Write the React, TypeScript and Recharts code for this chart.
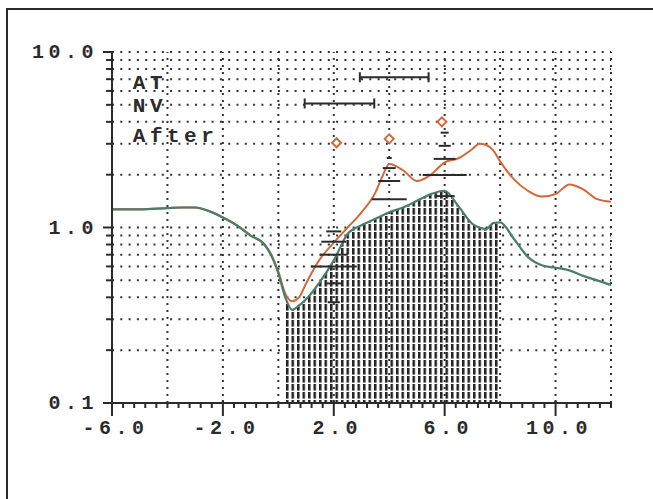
import React from 'react';
import {
  ComposedChart,
  Line,
  Area,
  Scatter,
  XAxis,
  YAxis,
  CartesianGrid,
  ReferenceLine,
  ErrorBar
} from 'recharts';

// sampled positions along the x axis
const xs = [-6, -5, -4, -3.5, -3, -2.5, -2, -1.5, -1, -0.5, -0.25, 0, 0.25, 0.5, 0.75, 1, 1.5, 2, 2.5, 3, 3.5, 3.75, 4, 4.5, 5, 5.5, 6, 6.5, 7, 7.25, 7.5, 7.75, 8, 8.5, 9, 9.5, 10, 10.5, 11, 11.5, 12];
const orangeVals = [1.27, 1.27, 1.29, 1.30, 1.30, 1.24, 1.14, 1.03, 0.90, 0.80, 0.70, 0.56, 0.42, 0.38, 0.40, 0.48, 0.66, 0.82, 1.00, 1.22, 1.58, 1.95, 2.30, 2.12, 1.84, 2.00, 2.35, 2.48, 2.80, 3.00, 2.95, 2.75, 2.38, 1.88, 1.62, 1.50, 1.55, 1.76, 1.65, 1.45, 1.40];
const greenVals = [1.27, 1.27, 1.29, 1.30, 1.30, 1.24, 1.14, 1.03, 0.90, 0.80, 0.69, 0.55, 0.40, 0.34, 0.36, 0.39, 0.49, 0.65, 0.92, 1.03, 1.12, 1.17, 1.22, 1.30, 1.42, 1.55, 1.62, 1.32, 1.05, 1.00, 0.98, 1.06, 1.07, 0.86, 0.68, 0.61, 0.59, 0.57, 0.53, 0.50, 0.47];
const hatchFrom = 0.25;
const hatchTo = 8;

// orange diamonds
const diamondXs = [2.1, 4.0, 5.9];
const diamondYs = [3.04, 3.2, 4.0];

// short black dashes under the diamonds
const dashXs = [2, 2, 2, 2, 2, 2, 4, 4, 4, 4, 6, 6, 6, 6, 6];
const dashYs = [0.95, 0.83, 0.70, 0.60, 0.48, 0.375, 2.49, 2.18, 1.84, 1.45, 3.47, 2.92, 2.46, 1.99, 1.51];
const DASH_WIDTHS = [15, 25, 28, 46, 15, 12, 5, 13, 22, 35, 8, 12, 22, 44, 20];

// horizontal range bars (AT, NV)
const rangeLows = [2.94, 0.95];
const rangeHighs = [5.42, 3.46];
const rangeYs = [7.18, 5.09];

// row labels
const rowLabels = ['AT', 'NV', 'After'];
const rowLabelX = -5.25;
const rowLabelYs = [6.81, 5.03, 3.38];

const xMajorTicks = [-6, -2, 2, 6, 10];
const xGridLines = [-4, -2, 0, 2, 4, 6, 8, 10, 12];
const yMajorTicks = [0.1, 1, 10];
const yTickLabels = ['0.1', '1.0', '10.0'];

const ORANGE = '#d2683a';
const GREEN = '#4b7e6a';
const INK = '#2b2b2b';
const FONT = '"Liberation Mono", "DejaVu Sans Mono", monospace';

const chartData = xs.map((x, i) => ({
  x,
  orange: orangeVals[i],
  green: greenVals[i],
  hatch: x >= hatchFrom && x <= hatchTo ? greenVals[i] : null
}));

const diamondData = diamondXs.map((x, i) => ({ x, y: diamondYs[i] }));
const dashData = dashXs.map((x, i) => ({ x, y: dashYs[i], k: i }));
const rangeData = rangeYs.map((y, i) => ({
  x: (rangeLows[i] + rangeHighs[i]) / 2,
  y,
  err: (rangeHighs[i] - rangeLows[i]) / 2
}));
const labelData = rowLabels.map((t, i) => ({ x: rowLabelX, y: rowLabelYs[i], t }));

const xTicks: number[] = [];
for (let k = 0; k <= 45; k++) xTicks.push(Math.round((-6 + k * 0.4) * 10) / 10);

const yTicks: number[] = [];
[0.1, 1].forEach(d => {
  for (let k = 1; k <= 9; k++) yTicks.push(Math.round(k * d * 100) / 100);
});
yTicks.push(10);

const textStyle = {
  fontFamily: FONT,
  fontSize: 20,
  fontWeight: 700,
  letterSpacing: 4.5,
  fill: INK
};

const XTick = (props: any) => {
  const { x, y, payload } = props;
  const v = payload.value;
  const major = xMajorTicks.includes(v);
  return (
    <g>
      <line x1={x} x2={x} y1={major ? y - 3 : y} y2={major ? y + 13 : y + 5} stroke={INK} strokeWidth={2} />
      {major && (
        <text x={x + 3.5} y={y + 31} textAnchor="middle" {...textStyle}>
          {v.toFixed(1)}
        </text>
      )}
    </g>
  );
};

const YTick = (props: any) => {
  const { x, y, payload } = props;
  const v = payload.value;
  const mi = yMajorTicks.findIndex(m => Math.abs(m - v) < 1e-9);
  const major = mi >= 0;
  return (
    <g>
      <line x1={x - (major ? 9 : 6)} x2={x} y1={y} y2={y} stroke={INK} strokeWidth={2} />
      {major && (
        <text x={x - 14} y={y + 6} textAnchor="end" {...textStyle}>
          {yTickLabels[mi]}
        </text>
      )}
    </g>
  );
};

const Diamond = (props: any) => {
  const { cx, cy } = props;
  const s = 4.5;
  return (
    <polygon
      points={`${cx},${cy - s} ${cx + s},${cy} ${cx},${cy + s} ${cx - s},${cy}`}
      fill="#fff"
      stroke={ORANGE}
      strokeWidth={2}
    />
  );
};

const Dash = (props: any) => {
  const { cx, cy, payload } = props;
  const w = DASH_WIDTHS[payload.k] || 10;
  return <line x1={cx - w / 2} x2={cx + w / 2} y1={cy} y2={cy} stroke={INK} strokeWidth={2} />;
};

const RowLabel = (props: any) => {
  const { cx, cy, payload } = props;
  return (
    <text x={cx} y={cy} dy="0.36em" {...textStyle} fontSize={21}>
      {payload.t}
    </text>
  );
};

const Nothing = () => <g />;

export default function App() {
  return (
    <div style={{ position: 'fixed', left: 0, top: 0, width: 653, height: 499, background: '#fff' }}>
      <div
        style={{
          position: 'absolute',
          left: 6,
          top: 8,
          width: 645,
          height: 495,
          borderTop: `2px solid ${INK}`,
          borderLeft: `2px solid ${INK}`
        }}
      />
      <div style={{ position: 'absolute', left: 0, top: 0 }}>
        <ComposedChart width={653} height={499} data={chartData} margin={{ top: 52, right: 42, left: 52, bottom: 46 }}>
          <defs>
            <pattern id="hatch" width="5.5" height="8" patternUnits="userSpaceOnUse">
              <rect width="5.5" height="8" fill="#fff" />
              <rect x="0" y="0" width="2.5" height="6.6" fill="#222" />
            </pattern>
          </defs>
          <CartesianGrid vertical={false} stroke="#333" strokeWidth={2} strokeDasharray="2 6.3" />
          {xGridLines.map(g => (
            <ReferenceLine key={g} x={g} stroke="#333" strokeWidth={2} strokeDasharray="2 5" />
          ))}
          <XAxis
            dataKey="x"
            type="number"
            domain={[-6, 12]}
            ticks={xTicks}
            interval={0}
            allowDataOverflow
            height={50}
            tickSize={0}
            tickMargin={0}
            tickLine={false}
            axisLine={{ stroke: INK, strokeWidth: 2 }}
            tick={<XTick />}
          />
          <YAxis
            type="number"
            scale="log"
            domain={[0.1, 10]}
            ticks={yTicks}
            interval={0}
            allowDataOverflow
            width={60}
            tickSize={0}
            tickMargin={0}
            tickLine={false}
            axisLine={{ stroke: INK, strokeWidth: 2 }}
            tick={<YTick />}
          />
          <Area
            dataKey="hatch"
            type="monotone"
            baseValue={0.1}
            stroke="none"
            fill="url(#hatch)"
            fillOpacity={1}
            isAnimationActive={false}
            activeDot={false}
          />
          <Line dataKey="orange" type="monotone" stroke={ORANGE} strokeWidth={2} dot={false} activeDot={false} isAnimationActive={false} />
          <Line dataKey="green" type="monotone" stroke={GREEN} strokeWidth={2.2} dot={false} activeDot={false} isAnimationActive={false} />
          <Scatter data={dashData} dataKey="y" shape={<Dash />} isAnimationActive={false} />
          <Scatter data={diamondData} dataKey="y" shape={<Diamond />} isAnimationActive={false} />
          <Scatter data={rangeData} dataKey="y" shape={<Nothing />} isAnimationActive={false}>
            <ErrorBar dataKey="err" direction="x" width={5} stroke={INK} strokeWidth={2} />
          </Scatter>
          <Scatter data={labelData} dataKey="y" shape={<RowLabel />} isAnimationActive={false} />
        </ComposedChart>
      </div>
    </div>
  );
}
